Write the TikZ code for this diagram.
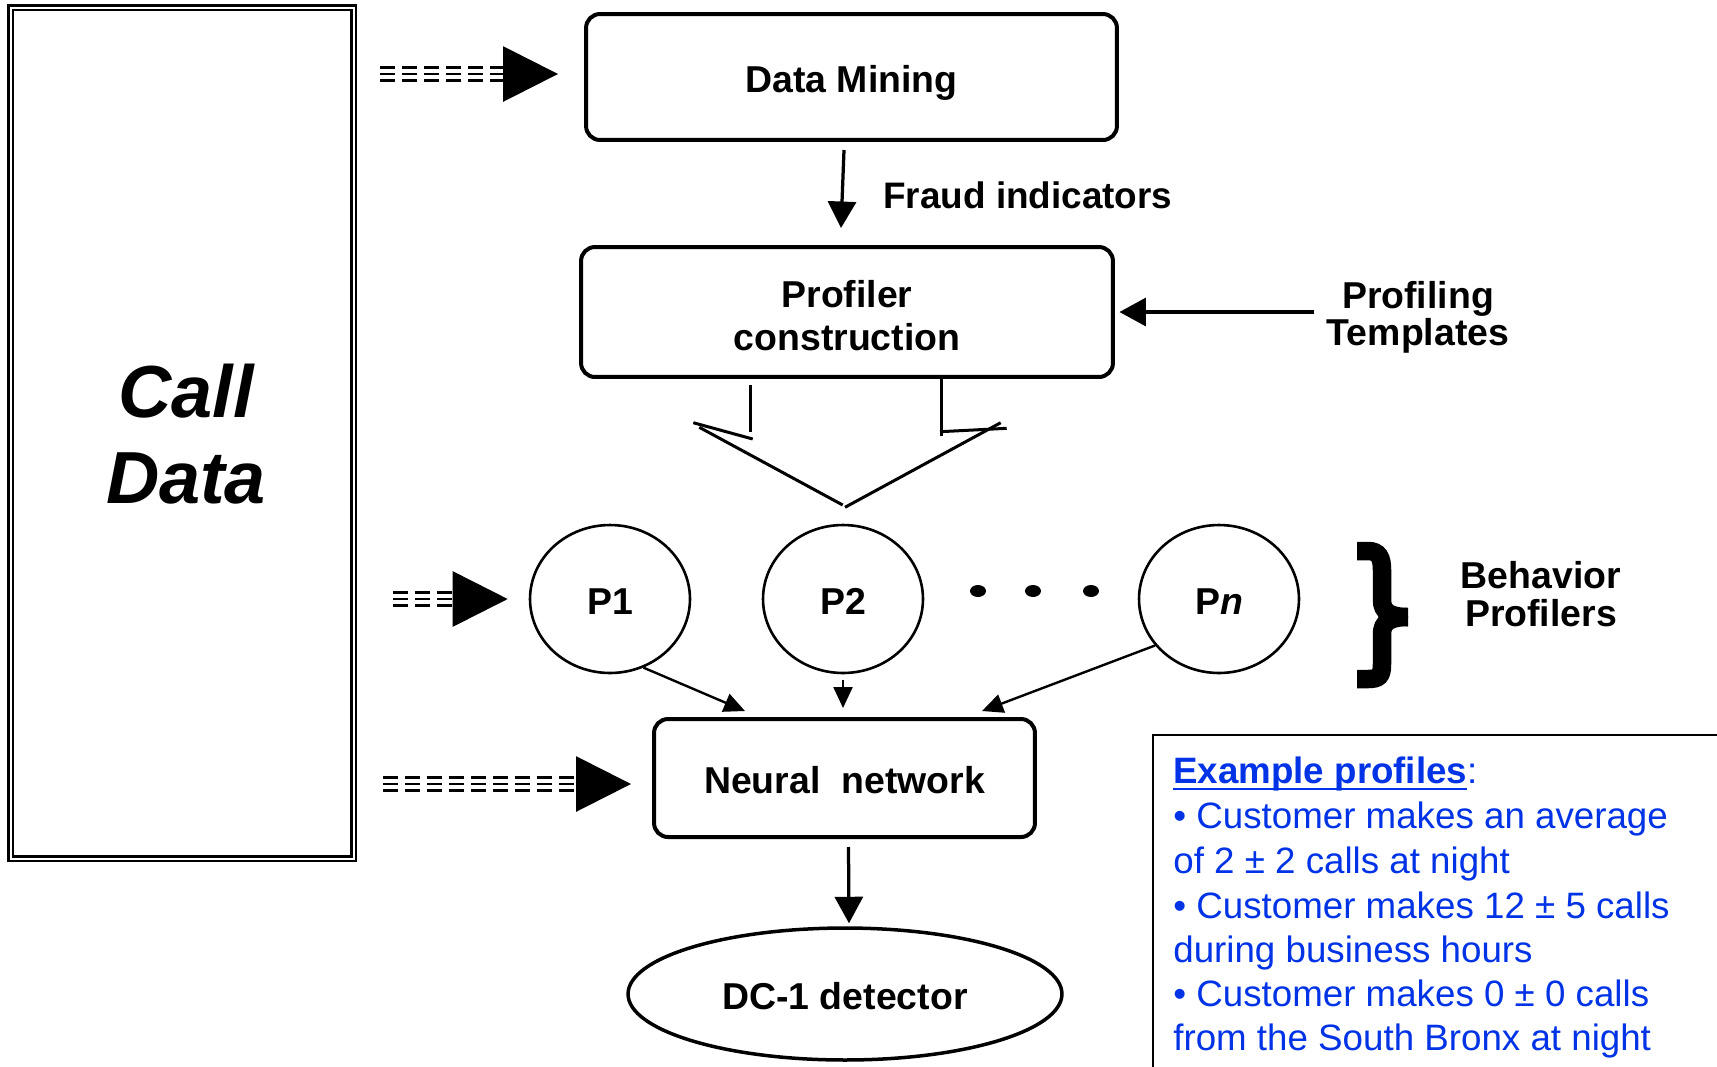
\documentclass[tikz,border=0pt]{standalone}
\usepackage{fontspec}
\setmainfont{Liberation Sans}
\usetikzlibrary{arrows.meta,shapes.geometric,calc}
\definecolor{exblue}{RGB}{0,51,230}
\newsavebox\exbox
\newcommand\exul[1]{\sbox\exbox{#1}\rlap{\rule[-0.2em]{\wd\exbox}{0.065em}}\usebox\exbox}
\begin{document}
\begin{tikzpicture}[x=0.02cm,y=-0.02cm,
  lbl/.style={font=\fontsize{21}{25}\selectfont\bfseries, inner sep=0pt},
  lowtext/.style={text height=0.68cm, text depth=0.05cm},
  rbox/.style={draw, line width=0.08cm, rounded corners=0.28cm, inner sep=0pt, align=center, font=\fontsize{21.3}{24.2}\selectfont\bfseries},
  prof/.style={draw, ellipse, line width=0.052cm, minimum width=3.2cm, minimum height=2.96cm, inner sep=0pt, lowtext, font=\fontsize{21.3}{25}\selectfont\bfseries},
  dashln/.style={line width=0.055cm, dash pattern=on 0.3cm off 0.14cm},
  bighead/.style={-{Triangle[length=1.1cm,width=1.1cm]}},
  arr/.style={line width=0.065cm, -{Triangle[length=0.53cm,width=0.56cm]}},
  sarr/.style={line width=0.048cm, -{Triangle[length=0.42cm,width=0.38cm]}},
  fork/.style={line width=0.06cm},
  extext/.style={text=exblue, anchor=base west, inner sep=0pt, font=\fontsize{20.9}{25}\selectfont},
]
\useasboundingbox (0,0) rectangle (1717,1066);

% Call Data
\node[draw, line width=0.045cm, minimum width=6.95cm, minimum height=17.11cm, inner sep=0pt] (cd) at (182.25,433.25) {};
\node[draw, line width=0.045cm, minimum width=6.77cm, minimum height=16.93cm, inner sep=0pt] (cdi) at (182.25,433.25) {};
\node[font=\fontsize{42}{48.8}\selectfont\bfseries\itshape, align=center, inner sep=0pt] (cdt) at (186,434) {Call\\Data};

% boxes
\node[rbox, lowtext, minimum width=10.62cm, minimum height=2.52cm] (dm) at (851.5,77) {Data Mining};
\node[rbox, minimum width=10.64cm, minimum height=2.6cm] (pc) at (847,312) {\rule{0pt}{0.68cm}Profiler\\construction};
\node[rbox, lowtext, minimum width=7.62cm, minimum height=2.36cm] (nn) at (844.5,778) {Neural~ network};
\node[draw, ellipse, line width=0.07cm, minimum width=8.68cm, minimum height=2.64cm, inner sep=0pt, lowtext, font=\fontsize{21.3}{25}\selectfont\bfseries] (dc) at (845,994) {DC-1 detector};

% profilers
\node[prof] (p1) at (610,599) {P1};
\node[prof] (p2) at (843,599) {P2};
\node[prof] (pn) at (1219,599) {P\textit{n}};
\fill (978,591) ellipse [x radius=0.16cm, y radius=0.12cm];
\fill (1033,591) ellipse [x radius=0.16cm, y radius=0.12cm];
\fill (1091,591) ellipse [x radius=0.16cm, y radius=0.12cm];

% labels
\node[lbl, anchor=base west] (fi) at (883,208) {Fraud indicators};
\node[lbl, align=center, font=\fontsize{21.3}{21.5}\selectfont\bfseries] (pt) at (1418,317.4) {Profiling\\Templates};
\node[lbl, align=center, font=\fontsize{21.3}{21.9}\selectfont\bfseries] (bp) at (1541,594) {Behavior\\Profilers};

% brace
\draw[line width=0.37cm] (1357,551) -- (1368,551) .. controls (1379,551) and (1382,558) .. (1382,570) -- (1382,600) .. controls (1382,612) and (1390,617) .. (1408,617);
\draw[line width=0.37cm] (1408,617) .. controls (1390,617) and (1382,622) .. (1382,634) -- (1382,664) .. controls (1382,676) and (1379,679) .. (1368,679) -- (1357,679);

% dashed inputs
\coordinate (s1) at (380,74);
\draw[dashln, bighead, shorten >=0.52cm] (s1) -- (s1 -| dm.west);
\draw[dashln] ($(s1)+(0,-6.7)$) -- ($(s1 -| dm.west)+(-71,-6.7)$);
\draw[dashln] ($(s1)+(0,6.7)$) -- ($(s1 -| dm.west)+(-71,6.7)$);

\coordinate (s2) at (393,599);
\draw[dashln, bighead, shorten >=0.42cm] (s2) -- (s2 -| p1.west);
\draw[dashln] ($(s2)+(0,-6.7)$) -- ($(s2 -| p1.west)+(-66,-6.7)$);
\draw[dashln] ($(s2)+(0,6.7)$) -- ($(s2 -| p1.west)+(-66,6.7)$);

\coordinate (s3) at (383,784);
\draw[dashln, bighead, shorten >=0.42cm] (s3) -- (s3 -| nn.west);
\draw[dashln] ($(s3)+(0,-6.7)$) -- ($(s3 -| nn.west)+(-66,-6.7)$);
\draw[dashln] ($(s3)+(0,6.7)$) -- ($(s3 -| nn.west)+(-66,6.7)$);

% connectors
\draw[arr] ([shift={(-7.5,8)}]dm.south) -- ([shift={(-6,-17)}]pc.north);
\coordinate (ptstart) at (1314,312);
\draw[arr, shorten >=0.09cm] (ptstart) -- (pc.east);
\draw[sarr] (p1.-64) -- ([shift={(-99.5,-6)}]nn.north);
\draw[sarr] ([shift={(0,6)}]p2.south) -- ([shift={(-1.5,-9)}]nn.north);
\draw[sarr] (pn.216) -- ([shift={(137.5,-6)}]nn.north);
\draw[arr] ([shift={(4,8)}]nn.south) -- ([shift={(4,-3)}]dc.north);

% fork
\draw[fork] (750.7,385) -- (750.7,431.7);
\draw[fork] (752.7,439) -- (693.3,422.7);
\draw[fork] (699.3,427.3) -- (842.7,505);
\draw[fork] (941,375) -- (941,436);
\draw[fork] (940,431.7) -- (1006.7,428.3);
\draw[fork] (1000.7,422.7) -- (845,507.3);

% example box
\draw[line width=0.045cm] (1725,735) -- (1153,735) -- (1153,1075);
\node[extext] (e1) at (1173,783) {\exul{\bfseries Example profiles}:};
\node[extext] (e2) at (1173,828) {• Customer makes an average};
\node[extext] (e3) at (1173,873) {of 2 ± 2 calls at night};
\node[extext] (e4) at (1173,918) {• Customer makes 12 ± 5 calls};
\node[extext] (e5) at (1173,962) {during business hours};
\node[extext] (e6) at (1173,1006) {• Customer makes 0 ± 0 calls};
\node[extext] (e7) at (1173,1050) {from the South Bronx at night};
\end{tikzpicture}
\end{document}
